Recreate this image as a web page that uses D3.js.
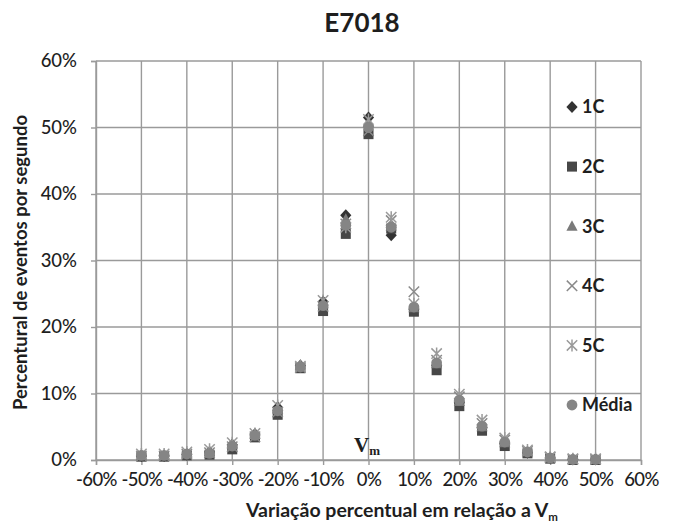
<!DOCTYPE html>
<html>
<head>
<meta charset="utf-8">
<script src="https://cdn.jsdelivr.net/npm/d3@7"></script>
<style>
  html, body { margin: 0; padding: 0; background: #fff; }
  svg { display: block; font-family: Lato, "Open Sans", sans-serif; }
</style>
</head>
<body>
<svg id="chart" width="676" height="525"></svg>
<script>
// Voltage variation relative to Vm (%)
const variation = [-50, -45, -40, -35, -30, -25, -20, -15, -10, -5, 0, 5, 10, 15, 20, 25, 30, 35, 40, 45, 50];

// Percent of events per second for each run
const s1C   = [0.6, 0.6, 0.8, 1.2, 2.3, 3.9, 7.9, 14.2, 23.8, 36.8, 51.5, 33.8, 22.6, 14.2, 8.6, 4.9, 2.5, 1.1, 0.3, 0.1, 0.1];
const s2C   = [0.5, 0.5, 0.7, 0.8, 1.6, 3.4, 6.8, 13.8, 22.4, 34.0, 49.0, 34.8, 22.3, 13.5, 8.1, 4.4, 2.1, 1.0, 0.2, 0.0, 0.0];
const s3C   = [0.8, 0.8, 1.0, 1.3, 2.4, 3.9, 7.7, 14.3, 23.5, 36.2, 50.8, 35.2, 22.9, 14.5, 8.8, 5.0, 2.6, 1.3, 0.3, 0.1, 0.1];
const s4C   = [0.6, 0.6, 0.9, 1.1, 2.0, 3.5, 7.2, 13.9, 23.1, 35.5, 49.5, 36.0, 25.3, 15.0, 9.5, 5.5, 3.0, 1.3, 0.4, 0.1, 0.1];
const s5C   = [0.9, 0.9, 1.2, 1.6, 2.6, 4.0, 8.2, 14.1, 24.0, 35.0, 51.2, 36.5, 23.5, 16.0, 9.9, 6.0, 3.3, 1.5, 0.5, 0.2, 0.2];
const media = [0.7, 0.7, 0.9, 1.0, 2.1, 3.7, 7.4, 14.0, 23.2, 35.3, 50.0, 35.0, 23.0, 14.6, 9.0, 5.1, 2.7, 1.2, 0.3, 0.1, 0.1];

const seriesNames = ["1C", "2C", "3C", "4C", "5C", "Média"];
const seriesValues = [s1C, s2C, s3C, s4C, s5C, media];

const xTicks = [-60, -50, -40, -30, -20, -10, 0, 10, 20, 30, 40, 50, 60];
const yTicks = [0, 10, 20, 30, 40, 50, 60];

const title = "E7018";
const xTitle = "Variação percentual em relação a V";
const yTitle = "Percentural de eventos por segundo";

// marker styles per series
const styles = [
  { shape: "diamond",  fill: "#333333" },
  { shape: "square",   fill: "#474747" },
  { shape: "triangle", fill: "#7a7a7a" },
  { shape: "cross",    stroke: "#8a8a8a" },
  { shape: "asterisk", stroke: "#9a9a9a" },
  { shape: "circle",   fill: "#858585" }
];

const svg = d3.select("#chart");
const m = { left: 96, right: 35, top: 61, bottom: 65 };
const W = 676, H = 525;

const x = d3.scaleLinear().domain([-60, 60]).range([m.left, W - m.right]);
const y = d3.scaleLinear().domain([0, 60]).range([H - m.bottom, m.top]);

const gridColor = "#9a9a9a";
const textColor = "#1e1e1e";

// gridlines
svg.append("g").selectAll("line").data(yTicks).join("line")
  .attr("x1", m.left).attr("x2", W - m.right)
  .attr("y1", d => y(d)).attr("y2", d => y(d))
  .attr("stroke", gridColor).attr("stroke-width", 1.4);
svg.append("g").selectAll("line").data(xTicks).join("line")
  .attr("y1", m.top).attr("y2", H - m.bottom)
  .attr("x1", d => x(d)).attr("x2", d => x(d))
  .attr("stroke", gridColor).attr("stroke-width", 1.4);

// axes
const xAxis = svg.append("g")
  .attr("transform", `translate(0,${H - m.bottom})`)
  .call(d3.axisBottom(x).tickValues(xTicks).tickFormat(d => d + "%").tickSize(5).tickPadding(8));
const yAxis = svg.append("g")
  .attr("transform", `translate(${m.left},0)`)
  .call(d3.axisLeft(y).tickValues(yTicks).tickFormat(d => d + "%").tickSize(5).tickPadding(14));
[xAxis, yAxis].forEach(a => {
  a.select(".domain").attr("stroke", gridColor).attr("stroke-width", 1.4);
  a.selectAll(".tick line").attr("stroke", gridColor).attr("stroke-width", 1.4);
  a.selectAll(".tick text").attr("fill", textColor).attr("font-size", 18.5).attr("font-weight", 500)
    .attr("font-family", "Lato, 'Open Sans', sans-serif");
});
xAxis.selectAll(".tick text").attr("letter-spacing", -0.6);

// marker generator
function drawMarker(g, shape, st, cx, cy) {
  const s = 5.6;
  if (shape === "diamond") {
    g.append("path").attr("d", `M${cx},${cy - s - 0.5}L${cx + s},${cy}L${cx},${cy + s + 0.5}L${cx - s},${cy}Z`).attr("fill", st.fill);
  } else if (shape === "square") {
    g.append("rect").attr("x", cx - 5).attr("y", cy - 5).attr("width", 10).attr("height", 10).attr("fill", st.fill);
  } else if (shape === "triangle") {
    g.append("path").attr("d", `M${cx},${cy - 6}L${cx + 5.6},${cy + 4.6}L${cx - 5.6},${cy + 4.6}Z`).attr("fill", st.fill);
  } else if (shape === "cross") {
    g.append("path").attr("d", `M${cx - 5.2},${cy - 5.2}L${cx + 5.2},${cy + 5.2}M${cx - 5.2},${cy + 5.2}L${cx + 5.2},${cy - 5.2}`)
      .attr("stroke", st.stroke).attr("stroke-width", 1.5).attr("fill", "none");
  } else if (shape === "asterisk") {
    g.append("path").attr("d", `M${cx - 5.2},${cy - 5.2}L${cx + 5.2},${cy + 5.2}M${cx - 5.2},${cy + 5.2}L${cx + 5.2},${cy - 5.2}M${cx},${cy - 6}L${cx},${cy + 6}`)
      .attr("stroke", st.stroke).attr("stroke-width", 1.5).attr("fill", "none");
  } else {
    g.append("circle").attr("cx", cx).attr("cy", cy).attr("r", 5.4).attr("fill", st.fill);
  }
}

// data points
const pts = svg.append("g");
seriesValues.forEach((vals, i) => {
  const g = pts.append("g").attr("class", "series-" + seriesNames[i]);
  vals.forEach((v, j) => drawMarker(g, styles[i].shape, styles[i], x(variation[j]), y(v)));
});

// legend inside the plot, on the right
const leg = svg.append("g");
seriesNames.forEach((name, i) => {
  const ly = 107 + i * 59.6;
  drawMarker(leg, styles[i].shape, styles[i], 572, ly);
  leg.append("text").attr("x", 582).attr("y", ly).attr("dy", "0.36em")
    .attr("font-size", 18).attr("font-weight", 700).attr("fill", textColor).text(name);
});

// title
svg.append("text").attr("x", 362).attr("y", 32).attr("text-anchor", "middle")
  .attr("font-size", 26).attr("font-weight", 700).attr("fill", textColor).text(title);

// x-axis title with subscript m
const xt = svg.append("text").attr("x", 402).attr("y", 517).attr("text-anchor", "middle")
  .attr("font-size", 19.5).attr("font-weight", 700).attr("fill", textColor);
xt.append("tspan").text(xTitle);
xt.append("tspan").attr("font-size", 11.5).attr("dy", 4).text("m");

// y-axis title
svg.append("text").attr("transform", `translate(27,${(m.top + H - m.bottom) / 2 + 2}) rotate(-90)`)
  .attr("text-anchor", "middle").attr("font-size", 18.5).attr("font-weight", 700).attr("fill", textColor).text(yTitle);

// Vm annotation at the origin
const vm = svg.append("text").attr("x", 354).attr("y", 452)
  .attr("font-family", "'Liberation Serif', 'DejaVu Serif', serif").attr("font-size", 21).attr("font-weight", 700).attr("fill", textColor);
vm.append("tspan").text("V");
vm.append("tspan").attr("font-size", 13).attr("dy", 3).text("m");
</script>
</body>
</html>
